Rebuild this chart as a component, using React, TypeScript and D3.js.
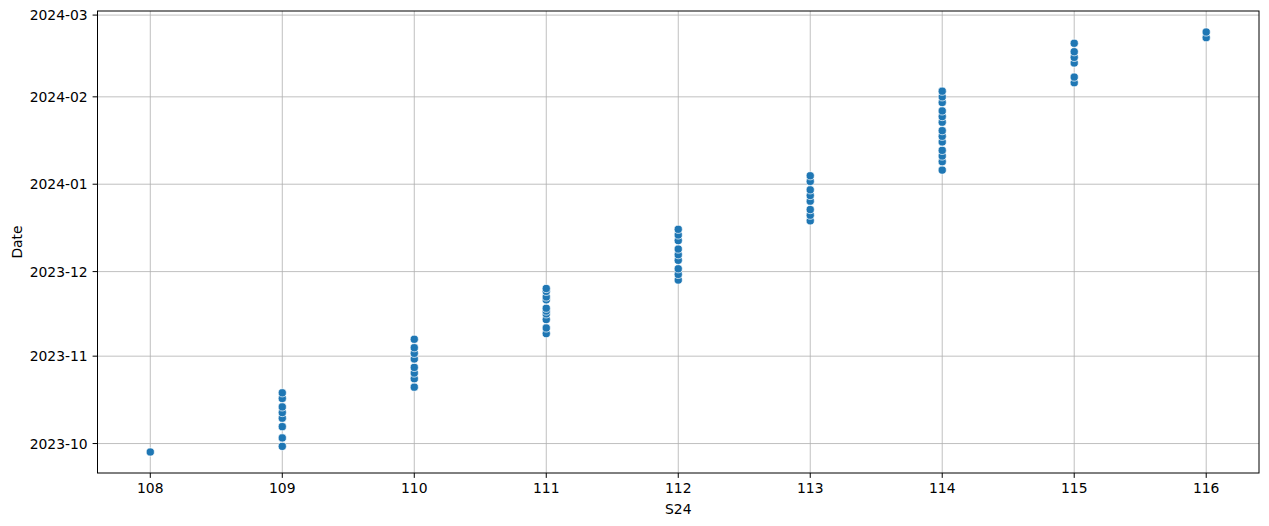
import * as d3 from "d3";
import React, { useEffect, useRef } from "react";

// S24 group values and the dates observed for each group
const s24Values = [108, 109, 110, 111, 112, 113, 114, 115, 116];

const dates108 = ["2023-09-28"];
const dates109 = ["2023-09-30", "2023-10-03", "2023-10-07", "2023-10-10", "2023-10-12", "2023-10-14", "2023-10-17", "2023-10-19"];
const dates110 = ["2023-10-21", "2023-10-24", "2023-10-26", "2023-10-28", "2023-10-31", "2023-11-02", "2023-11-04", "2023-11-07"];
const dates111 = ["2023-11-09", "2023-11-11", "2023-11-14", "2023-11-16", "2023-11-17", "2023-11-18", "2023-11-21", "2023-11-22", "2023-11-24", "2023-11-25"];
const dates112 = ["2023-11-28", "2023-11-30", "2023-12-02", "2023-12-05", "2023-12-07", "2023-12-09", "2023-12-12", "2023-12-14", "2023-12-16"];
const dates113 = ["2023-12-19", "2023-12-21", "2023-12-23", "2023-12-26", "2023-12-28", "2023-12-30", "2024-01-02", "2024-01-04"];
const dates114 = ["2024-01-06", "2024-01-09", "2024-01-11", "2024-01-13", "2024-01-16", "2024-01-18", "2024-01-20", "2024-01-23", "2024-01-25", "2024-01-27", "2024-01-30", "2024-02-01", "2024-02-03"];
const dates115 = ["2024-02-06", "2024-02-08", "2024-02-13", "2024-02-15", "2024-02-17", "2024-02-20"];
const dates116 = ["2024-02-22", "2024-02-24"];

const datesByGroup = [dates108, dates109, dates110, dates111, dates112, dates113, dates114, dates115, dates116];

const xTicks = [108, 109, 110, 111, 112, 113, 114, 115, 116];
const xLabel = "S24";
const yLabel = "Date";

const CONFIG = {
  width: 1269,
  height: 526,
  left: 97.5,
  right: 1259,
  top: 11,
  bottom: 473,
  fontSize: 13.9,
  tickLen: 4.9,
  tickPad: 4.9,
  color: "#1f77b4",
  radius: 4.1,
};

interface Point {
  s24: number;
  date: Date;
}

const App: React.FC = () => {
  const svgRef = useRef<SVGSVGElement>(null);

  useEffect(() => {
    draw();
  }, []);

  const draw = () => {
    const svg = d3.select(svgRef.current);
    svg.selectAll("*").remove();

    const parse = d3.timeParse("%Y-%m-%d");
    const points: Point[] = [];
    s24Values.forEach((v, i) => {
      datesByGroup[i].forEach((d) => points.push({ s24: v, date: parse(d) as Date }));
    });

    // matplotlib-like 5% margins
    const xExt = d3.extent(points, (p) => p.s24) as [number, number];
    const xPad = (xExt[1] - xExt[0]) * 0.05;
    const x = d3
      .scaleLinear()
      .domain([xExt[0] - xPad, xExt[1] + xPad])
      .range([CONFIG.left, CONFIG.right]);

    const tExt = d3.extent(points, (p) => p.date.getTime()) as [number, number];
    const tPad = (tExt[1] - tExt[0]) * 0.05;
    const y = d3
      .scaleTime()
      .domain([new Date(tExt[0] - tPad), new Date(tExt[1] + tPad)])
      .range([CONFIG.bottom, CONFIG.top]);

    const yTicks = y.ticks(d3.timeMonth.every(1) as d3.TimeInterval);
    const fmt = d3.timeFormat("%Y-%m");

    const font = "DejaVu Sans, sans-serif";

    // grid
    const grid = svg.append("g").attr("stroke", "#b0b0b0").attr("stroke-width", 0.8);
    xTicks.forEach((t) => {
      grid
        .append("line")
        .attr("x1", x(t))
        .attr("x2", x(t))
        .attr("y1", CONFIG.top)
        .attr("y2", CONFIG.bottom);
    });
    yTicks.forEach((t) => {
      grid
        .append("line")
        .attr("x1", CONFIG.left)
        .attr("x2", CONFIG.right)
        .attr("y1", y(t))
        .attr("y2", y(t));
    });

    // points
    svg
      .append("g")
      .selectAll("circle")
      .data(points)
      .enter()
      .append("circle")
      .attr("cx", (d: Point) => x(d.s24))
      .attr("cy", (d: Point) => y(d.date))
      .attr("r", CONFIG.radius)
      .attr("fill", CONFIG.color)
      .attr("stroke", "white")
      .attr("stroke-width", 0.7);

    // frame
    svg
      .append("rect")
      .attr("x", CONFIG.left)
      .attr("y", CONFIG.top)
      .attr("width", CONFIG.right - CONFIG.left)
      .attr("height", CONFIG.bottom - CONFIG.top)
      .attr("fill", "none")
      .attr("stroke", "black")
      .attr("stroke-width", 1);

    // x ticks
    const xg = svg.append("g");
    xTicks.forEach((t) => {
      xg.append("line")
        .attr("x1", x(t))
        .attr("x2", x(t))
        .attr("y1", CONFIG.bottom)
        .attr("y2", CONFIG.bottom + CONFIG.tickLen)
        .attr("stroke", "black")
        .attr("stroke-width", 1);
      xg.append("text")
        .attr("x", x(t))
        .attr("y", CONFIG.bottom + CONFIG.tickLen + CONFIG.tickPad)
        .attr("dy", "0.76em")
        .attr("text-anchor", "middle")
        .attr("font-family", font)
        .attr("font-size", CONFIG.fontSize)
        .attr("fill", "black")
        .text(String(t));
    });

    // y ticks
    const yg = svg.append("g");
    yTicks.forEach((t) => {
      yg.append("line")
        .attr("x1", CONFIG.left - CONFIG.tickLen)
        .attr("x2", CONFIG.left)
        .attr("y1", y(t))
        .attr("y2", y(t))
        .attr("stroke", "black")
        .attr("stroke-width", 1);
      yg.append("text")
        .attr("x", CONFIG.left - CONFIG.tickLen - CONFIG.tickPad)
        .attr("y", y(t))
        .attr("dy", "0.36em")
        .attr("text-anchor", "end")
        .attr("font-family", font)
        .attr("font-size", CONFIG.fontSize)
        .attr("fill", "black")
        .text(fmt(t));
    });

    // axis labels
    svg
      .append("text")
      .attr("x", (CONFIG.left + CONFIG.right) / 2)
      .attr("y", 514)
      .attr("text-anchor", "middle")
      .attr("font-family", font)
      .attr("font-size", CONFIG.fontSize)
      .attr("fill", "black")
      .text(xLabel);

    svg
      .append("text")
      .attr("transform", `translate(22, ${(CONFIG.top + CONFIG.bottom) / 2}) rotate(-90)`)
      .attr("text-anchor", "middle")
      .attr("font-family", font)
      .attr("font-size", CONFIG.fontSize)
      .attr("fill", "black")
      .text(yLabel);
  };

  return (
    <svg
      ref={svgRef}
      width={CONFIG.width}
      height={CONFIG.height}
      style={{ position: "absolute", left: 0, top: 0, background: "white" }}
    />
  );
};

export default App;
